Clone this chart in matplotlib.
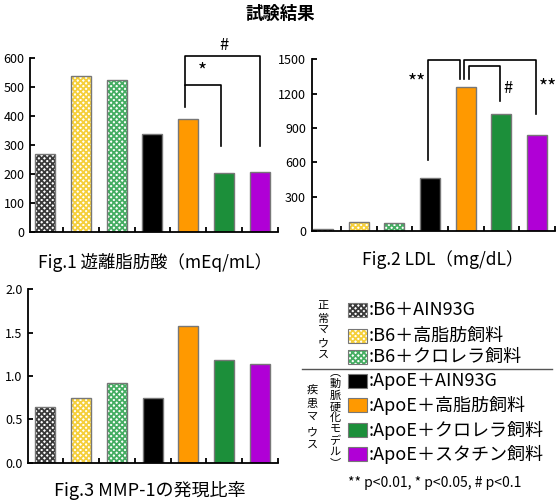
import matplotlib
matplotlib.use('Agg')
import matplotlib.pyplot as plt
from matplotlib.patches import Rectangle

plt.rcParams['font.family'] = ['Noto Sans CJK JP', 'DejaVu Sans']
plt.rcParams['hatch.linewidth'] = 1.3

# データ
groups = [':B6＋AIN93G', ':B6＋高脂肪飼料', ':B6＋クロレラ飼料',
          ':ApoE＋AIN93G', ':ApoE＋高脂肪飼料', ':ApoE＋クロレラ飼料', ':ApoE＋スタチン飼料']
colors = ['#3a3a3a', '#f5cf3a', '#45ad62', '#000000', '#ff9900', '#1c8f3a', '#b000d6']
hatched = [True, True, True, False, False, False, False]

ffa = [268, 539, 525, 337, 390, 203, 207]
ldl = [15, 76, 67, 466, 1261, 1022, 842]
mmp1 = [0.64, 0.75, 0.915, 0.75, 1.577, 1.18, 1.135]

ffa_ticks = [0, 100, 200, 300, 400, 500, 600]
ldl_ticks = [0, 300, 600, 900, 1200, 1500]
mmp_ticks = [0.0, 0.5, 1.0, 1.5, 2.0]

EDGE = '#777777'
HATCH = 'xxxxxx'
x = list(range(len(groups)))


def draw_bars(ax, values):
    for i, v in enumerate(values):
        if hatched[i]:
            ax.bar(i, v, width=0.56, color='white', edgecolor=colors[i],
                   hatch=HATCH, linewidth=0)
            ax.bar(i, v, width=0.56, fill=False, edgecolor=EDGE, linewidth=1)
        else:
            ax.bar(i, v, width=0.56, color=colors[i], edgecolor=EDGE, linewidth=1)


def style_axis(ax, ticks, labels, xleft):
    ax.set_xlim(xleft, 6.5)
    ax.set_ylim(ticks[0], ticks[-1])
    for s in ['top', 'right']:
        ax.spines[s].set_visible(False)
    ax.spines['left'].set_linewidth(1.3)
    ax.spines['bottom'].set_linewidth(1.3)
    ax.set_yticks(ticks)
    ax.set_yticklabels(labels, fontsize=9)
    ax.set_xticks([i + 0.5 for i in x])
    ax.set_xticklabels([])
    ax.tick_params(axis='both', direction='in', length=3.5, width=1.3)
    ax.tick_params(axis='y', pad=4)


def bracket(ax, pts):
    xs = [p[0] for p in pts]
    ys = [p[1] for p in pts]
    ax.plot(xs, ys, color='black', linewidth=1.2, clip_on=False)


fig = plt.figure(figsize=(5.6, 5.0), dpi=100)

# Fig.1
ax1 = fig.add_axes([0.0536, 0.536, 0.4424, 0.348])
draw_bars(ax1, ffa)
style_axis(ax1, ffa_ticks, [str(t) for t in ffa_ticks], -0.42)
bracket(ax1, [(3.9, 430), (3.9, 508), (4.92, 508), (4.92, 298)])
bracket(ax1, [(3.9, 508), (3.9, 606), (6.0, 606), (6.0, 298)])
ax1.text(4.4, 515, '*', ha='center', va='bottom', fontsize=14)
ax1.text(5.0, 615, '#', ha='center', va='bottom', fontsize=12)
fig.text(0.277, 0.476, 'Fig.1 遊離脂肪酸（mEq/mL）', ha='center', va='center', fontsize=12.5)

# Fig.2
ax2 = fig.add_axes([0.5566, 0.538, 0.4344, 0.3434])
draw_bars(ax2, ldl)
style_axis(ax2, ldl_ticks, [str(t) for t in ldl_ticks], -0.32)
bracket(ax2, [(2.94, 620), (2.94, 1494), (3.83, 1494), (3.83, 1325)])
bracket(ax2, [(3.95, 1325), (3.95, 1494), (5.97, 1494), (5.97, 1020)])
bracket(ax2, [(4.08, 1325), (4.08, 1442), (4.97, 1442), (4.97, 1136)])
ax2.text(2.62, 1290, '**', ha='center', va='center', fontsize=14)
ax2.text(5.17, 1245, '#', ha='center', va='center', fontsize=12)
ax2.text(6.3, 1245, '**', ha='center', va='center', fontsize=14)
fig.text(0.79, 0.48, 'Fig.2 LDL（mg/dL）', ha='center', va='center', fontsize=12.5)

# Fig.3
ax3 = fig.add_axes([0.0506, 0.0746, 0.4454, 0.3468])
draw_bars(ax3, mmp1)
style_axis(ax3, mmp_ticks, ['%.1f' % t for t in mmp_ticks], -0.48)
fig.text(0.268, 0.02, 'Fig.3 MMP-1の発現比率', ha='center', va='center', fontsize=13)

# タイトル
fig.text(0.5, 0.972, '試験結果', ha='center', va='center', fontsize=12.5, fontweight='bold')

# 凡例
row_y = [310, 336, 357, 381, 405, 430, 454]
for i, yy in enumerate(row_y):
    fy = 1 - yy / 500
    w, h = 19 / 560, 14 / 500
    if hatched[i]:
        fig.patches.append(Rectangle((348 / 560, fy - h / 2), w, h, transform=fig.transFigure,
                                     facecolor='white', edgecolor=colors[i], hatch=HATCH,
                                     linewidth=0))
        fig.patches.append(Rectangle((348 / 560, fy - h / 2), w, h, transform=fig.transFigure,
                                     fill=False, edgecolor=EDGE, linewidth=0.8))
    else:
        fig.patches.append(Rectangle((348 / 560, fy - h / 2), w, h, transform=fig.transFigure,
                                     facecolor=colors[i], edgecolor=EDGE, linewidth=0.8))
    fig.text(369 / 560, fy, groups[i], ha='left', va='center', fontsize=13)

fig.add_artist(plt.Line2D([302 / 560, 552 / 560], [1 - 369 / 500, 1 - 369 / 500],
                          transform=fig.transFigure, color='#555555', linewidth=1))

# 縦書きラベル
fig.text(323 / 560, 1 - 331 / 500, '\n'.join('正常マウス'), ha='center', va='center',
         fontsize=8, linespacing=1.3)
fig.text(312 / 560, 1 - 418 / 500, '\n'.join('疾患マウス'), ha='center', va='center',
         fontsize=8, linespacing=1.5)
fig.text(335 / 560, 1 - 418 / 500, '\n'.join('︵動脈硬化モデル︶'), ha='center', va='center',
         fontsize=8, linespacing=1.15)

fig.text(348 / 560, 1 - 483 / 500, '** p<0.01, * p<0.05, # p<0.1', ha='left', va='center',
         fontsize=10)

fig.savefig('out.png', dpi=100)
